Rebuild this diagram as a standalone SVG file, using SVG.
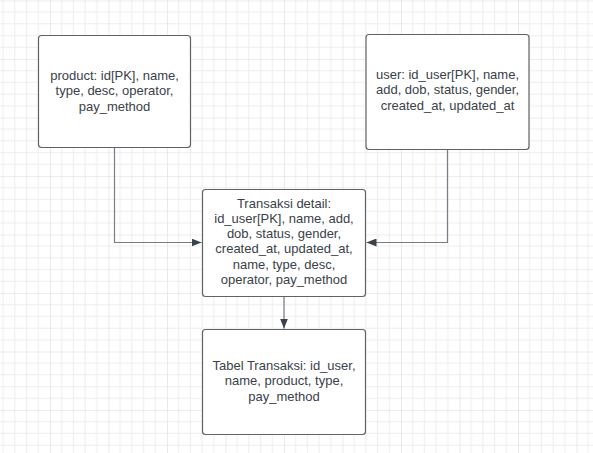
<svg xmlns="http://www.w3.org/2000/svg" width="593" height="453" viewBox="0 0 593 453">
<defs>
<pattern id="grid" x="-8.5" y="0.5" width="58.5" height="58.5" patternUnits="userSpaceOnUse">
<path d="M11.7 0V58.5M23.4 0V58.5M35.1 0V58.5M46.8 0V58.5M0 11.7H58.5M0 23.4H58.5M0 35.1H58.5M0 46.8H58.5" stroke="#ededed" stroke-width="1" fill="none"/>
<path d="M0 0V58.5M0 0H58.5" stroke="#dcdcdc" stroke-width="1.2" fill="none"/>
</pattern>
<marker id="arr" viewBox="0 0 10 8" refX="10" refY="4" markerWidth="10" markerHeight="8" markerUnits="userSpaceOnUse" orient="auto">
<path d="M0 0L10 4L0 8Z" fill="#3a414a"/>
</marker>
<style>
.box{fill:#ffffff;stroke:#5f6368;stroke-width:1.2}
.t{font-family:"Liberation Sans",Arial,sans-serif;font-size:13px;fill:#3a414a;text-anchor:middle}
.c{fill:none;stroke:#7a7d85;stroke-width:1.2}
</style>
</defs>
<rect width="593" height="453" fill="#ffffff"/>
<rect width="593" height="453" fill="url(#grid)"/>
<g id="connectors">
<path class="c" d="M114.5 147.5V242.5H201.5" marker-end="url(#arr)"/>
<path class="c" d="M447.5 149.5V242.5H366.5" marker-end="url(#arr)"/>
<path class="c" d="M284 296.5V328.5" marker-end="url(#arr)"/>
</g>
<g id="product">
<rect class="box" x="38.5" y="35.5" width="152" height="112" rx="3"/>
<text class="t" x="114.5" y="79.6">product: id[PK], name,</text>
<text class="t" x="114.5" y="95.2">type, desc, operator,</text>
<text class="t" x="114.5" y="110.8">pay_method</text>
</g>
<g id="user">
<rect class="box" x="366" y="34.5" width="163" height="115" rx="3"/>
<text class="t" x="447.5" y="78.8">user: id_user[PK], name,</text>
<text class="t" x="447.5" y="94.3">add, dob, status, gender,</text>
<text class="t" x="447.5" y="109.8">created_at, updated_at</text>
</g>
<g id="transaksi-detail">
<rect class="box" x="202.5" y="189.5" width="163" height="107" rx="3"/>
<text class="t" x="284" y="208">Transaksi detail:</text>
<text class="t" x="284" y="222.8">id_user[PK], name, add,</text>
<text class="t" x="284" y="238.1">dob, status, gender,</text>
<text class="t" x="284" y="253.4">created_at, updated_at,</text>
<text class="t" x="284" y="268.7">name, type, desc,</text>
<text class="t" x="284" y="284">operator, pay_method</text>
</g>
<g id="tabel-transaksi">
<rect class="box" x="202.5" y="329.5" width="163" height="105" rx="3"/>
<text class="t" x="284" y="369.8">Tabel Transaksi: id_user,</text>
<text class="t" x="284" y="385.2">name, product, type,</text>
<text class="t" x="284" y="400.5">pay_method</text>
</g>
</svg>
